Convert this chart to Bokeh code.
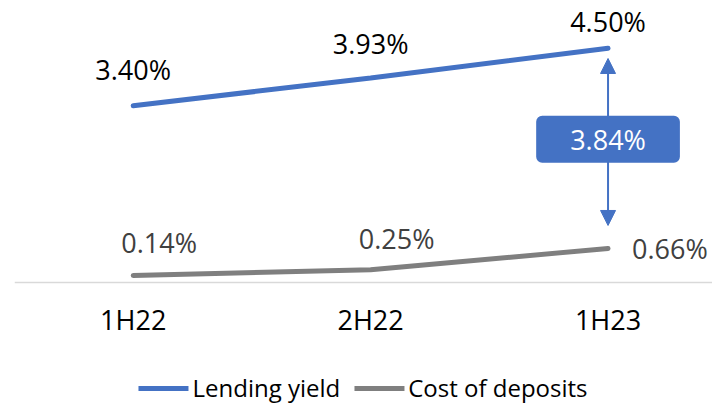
from bokeh.plotting import figure
from bokeh.models import (ColumnDataSource, Legend, LegendItem, Arrow, NormalHead,
                          Label, FixedTicker, Range1d, LinearAxis)
from bokeh.core.properties import value
from bokeh.embed import file_html
from bokeh.resources import INLINE

# ---- data ----
periods = ["1H22", "2H22", "1H23"]
lending_yield = [3.40, 3.93, 4.50]
cost_of_deposits = [0.14, 0.25, 0.66]
series_names = ["Lending yield", "Cost of deposits"]

BLUE = "#4472C4"
GRAY = "#7F7F7F"
FONT = "Open Sans"

xs = list(range(len(periods)))
spread = lending_yield[-1] - cost_of_deposits[-1]

p = figure(width=712, height=404, output_backend="svg", toolbar_location=None,
           x_range=Range1d(-0.5, 2.44), y_range=Range1d(-2.336, 5.418),
           x_axis_location=None, y_axis_location=None,
           min_border=0, min_border_left=14, min_border_right=0)
p.grid.visible = False
p.outline_line_color = None
p.background_fill_color = None
p.border_fill_color = "white"

# x axis drawn at y = 0
xaxis = LinearAxis(fixed_location=0)
xaxis.ticker = FixedTicker(ticks=xs)
xaxis.major_label_overrides = {i: lab for i, lab in enumerate(periods)}
xaxis.axis_line_color = "#D9D9D9"
xaxis.axis_line_width = 1.5
xaxis.major_tick_line_color = None
xaxis.minor_tick_line_color = None
xaxis.major_label_standoff = 12
xaxis.major_label_text_font = FONT
xaxis.major_label_text_font_size = "27px"
xaxis.major_label_text_color = "#000000"
p.add_layout(xaxis, "below")

src = ColumnDataSource(dict(
    x=xs, ly=lending_yield, cd=cost_of_deposits,
    ly_txt=[f"{v:.2f}%" for v in lending_yield],
    cd_txt=[f"{v:.2f}%" for v in cost_of_deposits],
    ly_dy=[-36, -35, -27],
    cd_dx=[26, 26, 24],
    cd_dy=[-33, -31, 0],
    cd_align=["center", "center", "left"],
))

r1 = p.line("x", "ly", source=src, line_color=BLUE, line_width=5, line_cap="round")
r2 = p.line("x", "cd", source=src, line_color=GRAY, line_width=5, line_cap="round")

p.text("x", "ly", text="ly_txt", source=src, y_offset="ly_dy",
       text_align="center", text_baseline="middle", text_color="#000000",
       text_font=value(FONT), text_font_size="27px")
p.text("x", "cd", text="cd_txt", source=src, x_offset="cd_dx", y_offset="cd_dy",
       text_align="cd_align", text_baseline="middle", text_color="#404040",
       text_font=value(FONT), text_font_size="27px")

# spread arrow
arrow = Arrow(x_start=xs[-1], y_start=lending_yield[-1] - 0.195,
              x_end=xs[-1], y_end=cost_of_deposits[-1] + 0.44,
              start=NormalHead(size=15, fill_color=BLUE, line_color=BLUE),
              end=NormalHead(size=15, fill_color=BLUE, line_color=BLUE),
              line_color=BLUE, line_width=2)
p.add_layout(arrow)

box = Label(x=xs[-1], y=(lending_yield[-1] + cost_of_deposits[-1]) / 2, y_offset=9,
            text=f"{spread:.2f}%", text_align="center", text_baseline="middle",
            text_color="white", text_font=FONT, text_font_size="27px",
            background_fill_color=BLUE, border_radius=6,
            padding=dict(left=34, right=34, top=5, bottom=5))
p.add_layout(box)

legend = Legend(items=[LegendItem(label=series_names[0], renderers=[r1]),
                       LegendItem(label=series_names[1], renderers=[r2])],
                orientation="horizontal", location="bottom",
                glyph_width=50, label_standoff=4, spacing=14, padding=0, margin=0,
                border_line_color=None, background_fill_alpha=0,
                label_text_font=FONT, label_text_font_size="24px",
                label_text_color="#000000")
p.add_layout(legend)

open("out.html", "w").write(file_html(p, INLINE))
